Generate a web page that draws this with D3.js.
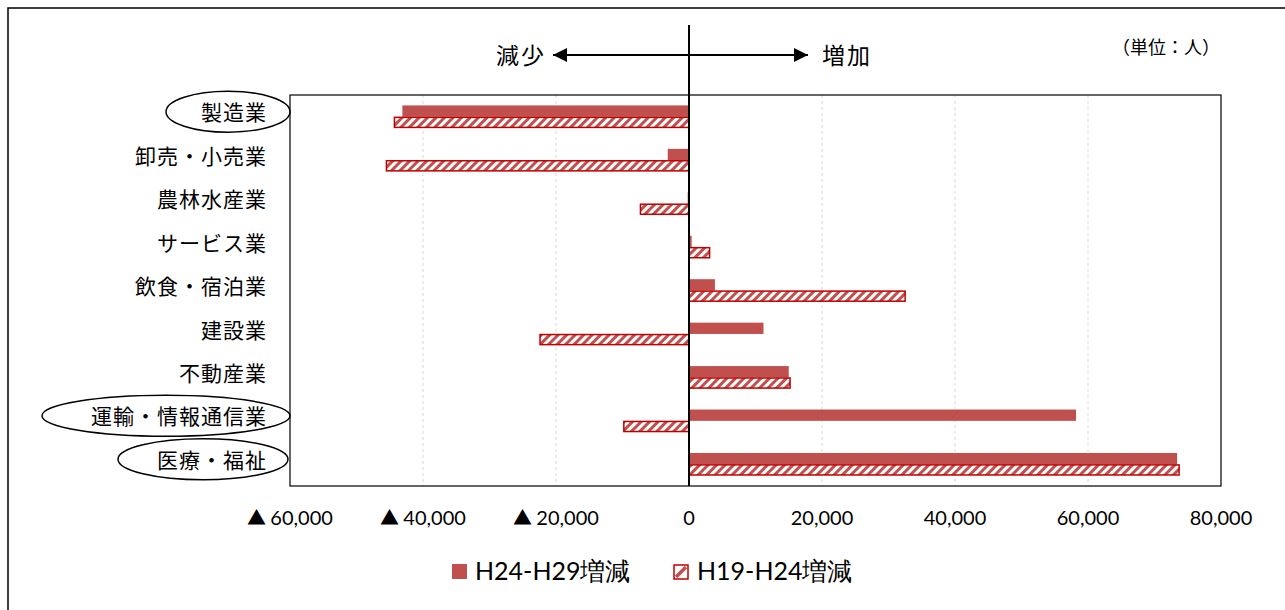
<!DOCTYPE html>
<html>
<head>
<meta charset="utf-8">
<script src="https://cdn.jsdelivr.net/npm/d3@7"></script>
<style>
  body { margin: 0; background: #fff; }
  text { font-family: "Noto Sans CJK JP", "Noto Sans", sans-serif; fill: #000; }
  .num { font-family: Lato, "Noto Sans", sans-serif; }
</style>
</head>
<body>
<div id="chart"></div>
<script>
// DATA
const categories = ['製造業', '卸売・小売業', '農林水産業', 'サービス業', '飲食・宿泊業', '建設業', '不動産業', '運輸・情報通信業', '医療・福祉'];
const seriesNames = ['H24-H29増減', 'H19-H24増減'];
const h24h29 = [-43100, -3200, -200, 400, 3900, 11200, 15000, 58200, 73400];
const h19h24 = [-44300, -45500, -7300, 3100, 32500, -22400, 15200, -9800, 73700];
const tickValues = [-60000, -40000, -20000, 0, 20000, 40000, 60000, 80000];
// circled categories
const circled = ['製造業', '運輸・情報通信業', '医療・福祉'];

document.addEventListener('DOMContentLoaded', function(){
  drawChart();
});

function drawChart(){
  const W = 1285, H = 610;
  const m = {top: 95, right: 64, bottom: 124, left: 290};

  const svg = d3.select('#chart').append('svg')
                .attr('width', W)
                .attr('height', H);

  // hatch pattern
  const defs = svg.append('defs');
  const pat = defs.append('pattern')
                  .attr('id', 'hatch')
                  .attr('patternUnits', 'userSpaceOnUse')
                  .attr('width', 6).attr('height', 6)
                  .attr('patternTransform', 'rotate(45)');
  pat.append('rect').attr('width', 6).attr('height', 6).attr('fill', '#fff');
  pat.append('rect').attr('width', 3).attr('height', 6).attr('fill', '#c0504d');

  // outer frame
  svg.append('rect')
     .attr('x', 8).attr('y', 8)
     .attr('width', W + 10).attr('height', H + 10)
     .attr('fill', 'none')
     .attr('stroke', '#000')
     .attr('stroke-width', 1.5);

  // scales
  const x = d3.scaleLinear()
              .domain([-60000, 80000])
              .range([m.left, W - m.right]);
  const y = d3.scaleBand()
              .domain(categories)
              .range([m.top, H - m.bottom])
              .paddingInner(0.48)
              .paddingOuter(0.24);
  const ySub = d3.scaleBand()
                 .domain(seriesNames)
                 .range([0, y.bandwidth()]);

  const plotTop = m.top, plotBottom = H - m.bottom;

  // gridlines
  svg.append('g')
     .selectAll('line')
     .data(tickValues.filter(d => d !== 0 && d !== -60000 && d !== 80000))
     .enter().append('line')
       .attr('x1', d => x(d)).attr('x2', d => x(d))
       .attr('y1', plotTop).attr('y2', plotBottom)
       .attr('stroke', '#d9d9d9')
       .attr('stroke-dasharray', '3,3');

  // plot frame
  svg.append('rect')
     .attr('x', x(-60000)).attr('y', plotTop)
     .attr('width', x(80000) - x(-60000))
     .attr('height', plotBottom - plotTop)
     .attr('fill', 'none')
     .attr('stroke', '#000')
     .attr('stroke-width', 1.2);

  // bars
  const series = [
    {name: seriesNames[0], values: h24h29},
    {name: seriesNames[1], values: h19h24}
  ];
  series.forEach(function(s, si){
    svg.append('g')
       .selectAll('rect')
       .data(s.values)
       .enter().append('rect')
         .attr('x', d => x(Math.min(0, d)))
         .attr('width', d => Math.abs(x(d) - x(0)))
         .attr('y', (d, i) => y(categories[i]) + ySub(s.name) + (si === 1 ? 0.6 : 0))
         .attr('height', ySub.bandwidth() - (si === 1 ? 1.2 : 0))
         .attr('fill', si === 0 ? '#c0504d' : 'url(#hatch)')
         .attr('stroke', si === 0 ? 'none' : '#c00000')
         .attr('stroke-width', 1.5);
  });

  // zero line (extends above plot)
  svg.append('line')
     .attr('x1', x(0)).attr('x2', x(0))
     .attr('y1', 25).attr('y2', plotBottom)
     .attr('stroke', '#000')
     .attr('stroke-width', 2);

  // arrows on top
  const arrowY = 55;
  defs.append('marker')
      .attr('id', 'arrow')
      .attr('viewBox', '0 0 10 10')
      .attr('refX', 10).attr('refY', 5)
      .attr('markerWidth', 7).attr('markerHeight', 7)
      .attr('markerUnits', 'strokeWidth')
      .attr('orient', 'auto-start-reverse')
      .append('path')
        .attr('d', 'M0,0 L10,5 L0,10 Z')
        .attr('fill', '#000');
  svg.append('line')
     .attr('x1', 553).attr('x2', 808)
     .attr('y1', arrowY).attr('y2', arrowY)
     .attr('stroke', '#000')
     .attr('stroke-width', 2)
     .attr('marker-start', 'url(#arrow)')
     .attr('marker-end', 'url(#arrow)');
  svg.append('text')
     .attr('x', 546).attr('y', arrowY + 1)
     .attr('dy', '0.36em')
     .attr('text-anchor', 'end')
     .style('font-size', '23px')
     .style('letter-spacing', '2px')
     .text('減少');
  svg.append('text')
     .attr('x', 822).attr('y', arrowY + 1)
     .attr('dy', '0.36em')
     .style('font-size', '23px')
     .style('letter-spacing', '2px')
     .text('増加');

  // unit
  svg.append('text')
     .attr('x', 1220).attr('y', 48)
     .attr('dy', '0.36em')
     .attr('text-anchor', 'end')
     .style('font-size', '18px')
     .text('（単位：人）');

  // category labels
  const labelX = 267;
  svg.append('g')
     .selectAll('text')
     .data(categories)
     .enter().append('text')
       .attr('x', labelX)
       .attr('y', d => y(d) + y.bandwidth() / 2 - 4)
       .attr('dy', '0.36em')
       .attr('text-anchor', 'end')
       .style('font-size', '21px')
       .style('letter-spacing', '1px')
       .text(d => d);

  // ellipses around circled labels
  const ellipses = {
    '製造業': {cx: 228, rx: 62},
    '運輸・情報通信業': {cx: 166, rx: 124},
    '医療・福祉': {cx: 203, rx: 85}
  };
  svg.append('g')
     .selectAll('ellipse')
     .data(circled)
     .enter().append('ellipse')
       .attr('cx', d => ellipses[d].cx)
       .attr('cy', d => y(d) + y.bandwidth() / 2 - 5)
       .attr('rx', d => ellipses[d].rx)
       .attr('ry', 20.5)
       .attr('fill', 'none')
       .attr('stroke', '#000')
       .attr('stroke-width', 1.5);

  // x axis labels
  const fmt = d3.format(',');
  const tl = svg.append('g')
     .selectAll('text')
     .data(tickValues)
     .enter().append('text')
       .attr('class', 'num')
       .attr('x', d => x(d))
       .attr('y', 518)
       .attr('dy', '0.36em')
       .attr('text-anchor', 'middle')
       .style('font-size', '20px');
  tl.filter(d => d < 0).append('tspan')
    .style('font-family', '"Noto Sans CJK JP"')
    .style('font-size', '19px')
    .text('▲ ');
  tl.append('tspan').text(d => fmt(Math.abs(d)));

  // legend
  const legY = 571;
  const leg = svg.append('g');
  leg.append('rect')
     .attr('x', 452).attr('y', legY - 7)
     .attr('width', 15).attr('height', 15)
     .attr('fill', '#c0504d');
  leg.append('text')
     .attr('class', 'num')
     .attr('x', 475).attr('y', legY)
     .attr('dy', '0.36em')
     .style('font-size', '25px')
     .text(seriesNames[0]);
  leg.append('rect')
     .attr('x', 674).attr('y', legY - 6)
     .attr('width', 14).attr('height', 14)
     .attr('fill', '#fff')
     .attr('stroke', '#c00000')
     .attr('stroke-width', 1.5);
  leg.append('line')
     .attr('x1', 676).attr('y1', legY + 6)
     .attr('x2', 686).attr('y2', legY - 4)
     .attr('stroke', '#c0504d')
     .attr('stroke-width', 3.5);
  leg.append('text')
     .attr('class', 'num')
     .attr('x', 697).attr('y', legY)
     .attr('dy', '0.36em')
     .style('font-size', '25px')
     .text(seriesNames[1]);
}
</script>
</body>
</html>
